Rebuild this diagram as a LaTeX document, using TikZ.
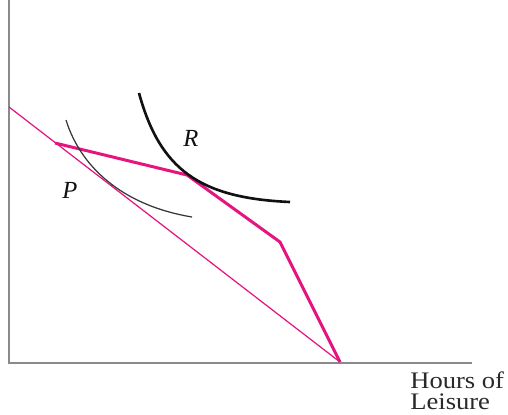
\documentclass[tikz,border=0pt]{standalone}
\usepackage{fontspec}
\setmainfont{Liberation Serif}
\newfontfamily\lswide[FakeStretch=1.12]{Liberation Serif}
\definecolor{lsink}{HTML}{111111}
\definecolor{lsaxis}{HTML}{8A8A8A}
\definecolor{lsmag}{HTML}{E5147F}
\usetikzlibrary{positioning}
\tikzset{
  lsaxisline/.style ={draw=lsaxis, line width=1.1pt},
  lsbudget/.style   ={draw=lsmag, line width=0.7pt},
  lskinked/.style   ={draw=lsmag, line width=1.7pt, line join=miter},
  lsthin/.style     ={draw=lsink!85, line width=0.7pt},
  lsthick/.style    ={draw=lsink, line width=1.5pt},
  lslbl/.style      ={font=\fontsize{14}{16}\selectfont\itshape, text=lsink},
  lsaxlbl/.style    ={font=\lswide\fontsize{13.5}{12.4}\selectfont, text=lsink!90,
                      align=left, anchor=north west, inner sep=0pt},
}
\begin{document}
\begin{tikzpicture}[x={(0.02cm,0)}, y={(0,-0.02cm)}]
  \useasboundingbox (0,0) rectangle (508,414);
  % axes
  \coordinate (o) at (9,363);
  \coordinate (ytop) at (9,0);
  \coordinate (xend) at (472,363);
  \draw[lsaxisline] (ytop) -- (o) -- (xend);
  % budget lines
  \coordinate (b0) at (9,107);
  \coordinate (k1) at (55,143);
  \coordinate (k2) at (187,175);
  \coordinate (k3) at (280,242);
  \coordinate (b1) at (340,362);
  \draw[lsbudget] (b0) -- (b1);
  \draw[lskinked] (k1) -- (k2) -- (k3) -- (b1);
  % indifference curves
  \draw[lsthin] (66,120) .. controls (80,165) and (120,205) .. (192,217);
  \draw[lsthick] (139,93) .. controls (160,170) and (200,198) .. (290,202);
  \node[lslbl] (r) at (191,138) {R};
  \node[lslbl] (p) at (70,190) {P};
  \node[lsaxlbl] (hl) at (410,371) {Hours of\\Leisure};
\end{tikzpicture}
\end{document}
